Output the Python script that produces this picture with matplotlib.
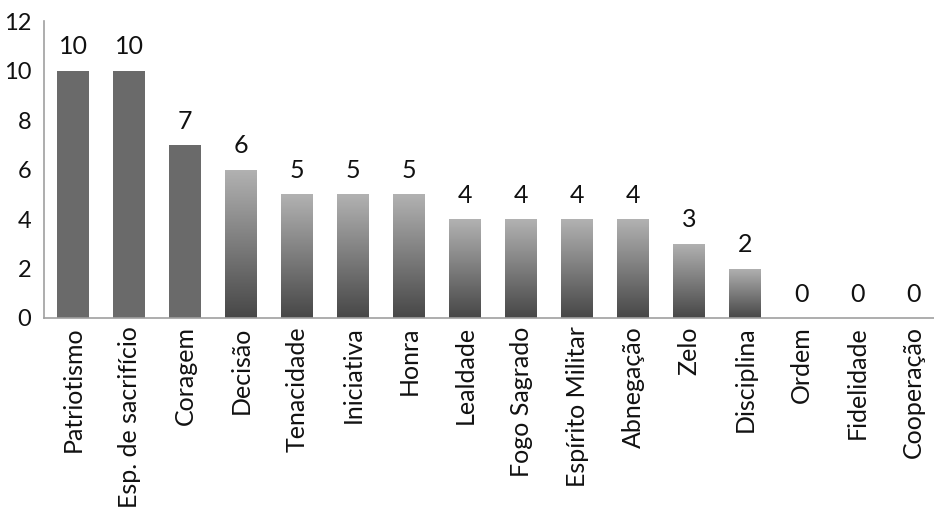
import numpy as np
import matplotlib
matplotlib.use("Agg")
from matplotlib import pyplot as plt
from matplotlib.colors import LinearSegmentedColormap

# categorias e valores
categories = ["Patriotismo", "Esp. de sacrifício", "Coragem", "Decisão", "Tenacidade",
              "Iniciativa", "Honra", "Lealdade", "Fogo Sagrado", "Espírito Militar",
              "Abnegação", "Zelo", "Disciplina", "Ordem", "Fidelidade", "Cooperação"]
values = [10, 10, 7, 6, 5, 5, 5, 4, 4, 4, 4, 3, 2, 0, 0, 0]
solid = [True, True, True] + [False] * 13

plt.rcParams["font.family"] = ["Lato", "DejaVu Sans"]

fig = plt.figure(figsize=(9.34, 5.13), dpi=100)
ax = fig.add_axes([44 / 934, 1 - 318 / 513, 1 - 44 / 934, (318 - 21.4) / 513])

x = np.arange(len(categories))
width = 0.57
cmap = LinearSegmentedColormap.from_list("grad", ["#474747", "#b2b2b2"])
grad = np.linspace(0, 1, 256).reshape(-1, 1)

bars = ax.bar(x, values, width=width, color="#6a6a6a", edgecolor="none", zorder=2)
for b, s in zip(bars, solid):
    if s or b.get_height() == 0:
        continue
    b.set_facecolor("none")
    x0, y0 = b.get_x(), b.get_y()
    im = ax.imshow(grad, cmap=cmap, aspect="auto", origin="lower",
                   extent=(x0, x0 + b.get_width(), y0, y0 + b.get_height()), zorder=2)
    im.set_clip_path(b)

for xi, v in zip(x, values):
    ax.text(xi, v + 0.5, str(v), ha="center", va="bottom", fontsize=18, color="#111111")

ax.set_xlim(-0.518, 15.375)
ax.set_ylim(0, 12)
ax.set_yticks(range(0, 13, 2))
ax.set_xticks(x)
ax.set_xticklabels(categories, rotation=90, fontsize=18)
ax.tick_params(axis="both", length=0, colors="#111111")
ax.tick_params(axis="y", pad=9, labelsize=17)
ax.tick_params(axis="x", pad=6)
for side in ["top", "right"]:
    ax.spines[side].set_visible(False)
for side in ["left", "bottom"]:
    ax.spines[side].set_color("#a0a0a0")
    ax.spines[side].set_linewidth(1.2)

fig.savefig("out.png", dpi=100)
